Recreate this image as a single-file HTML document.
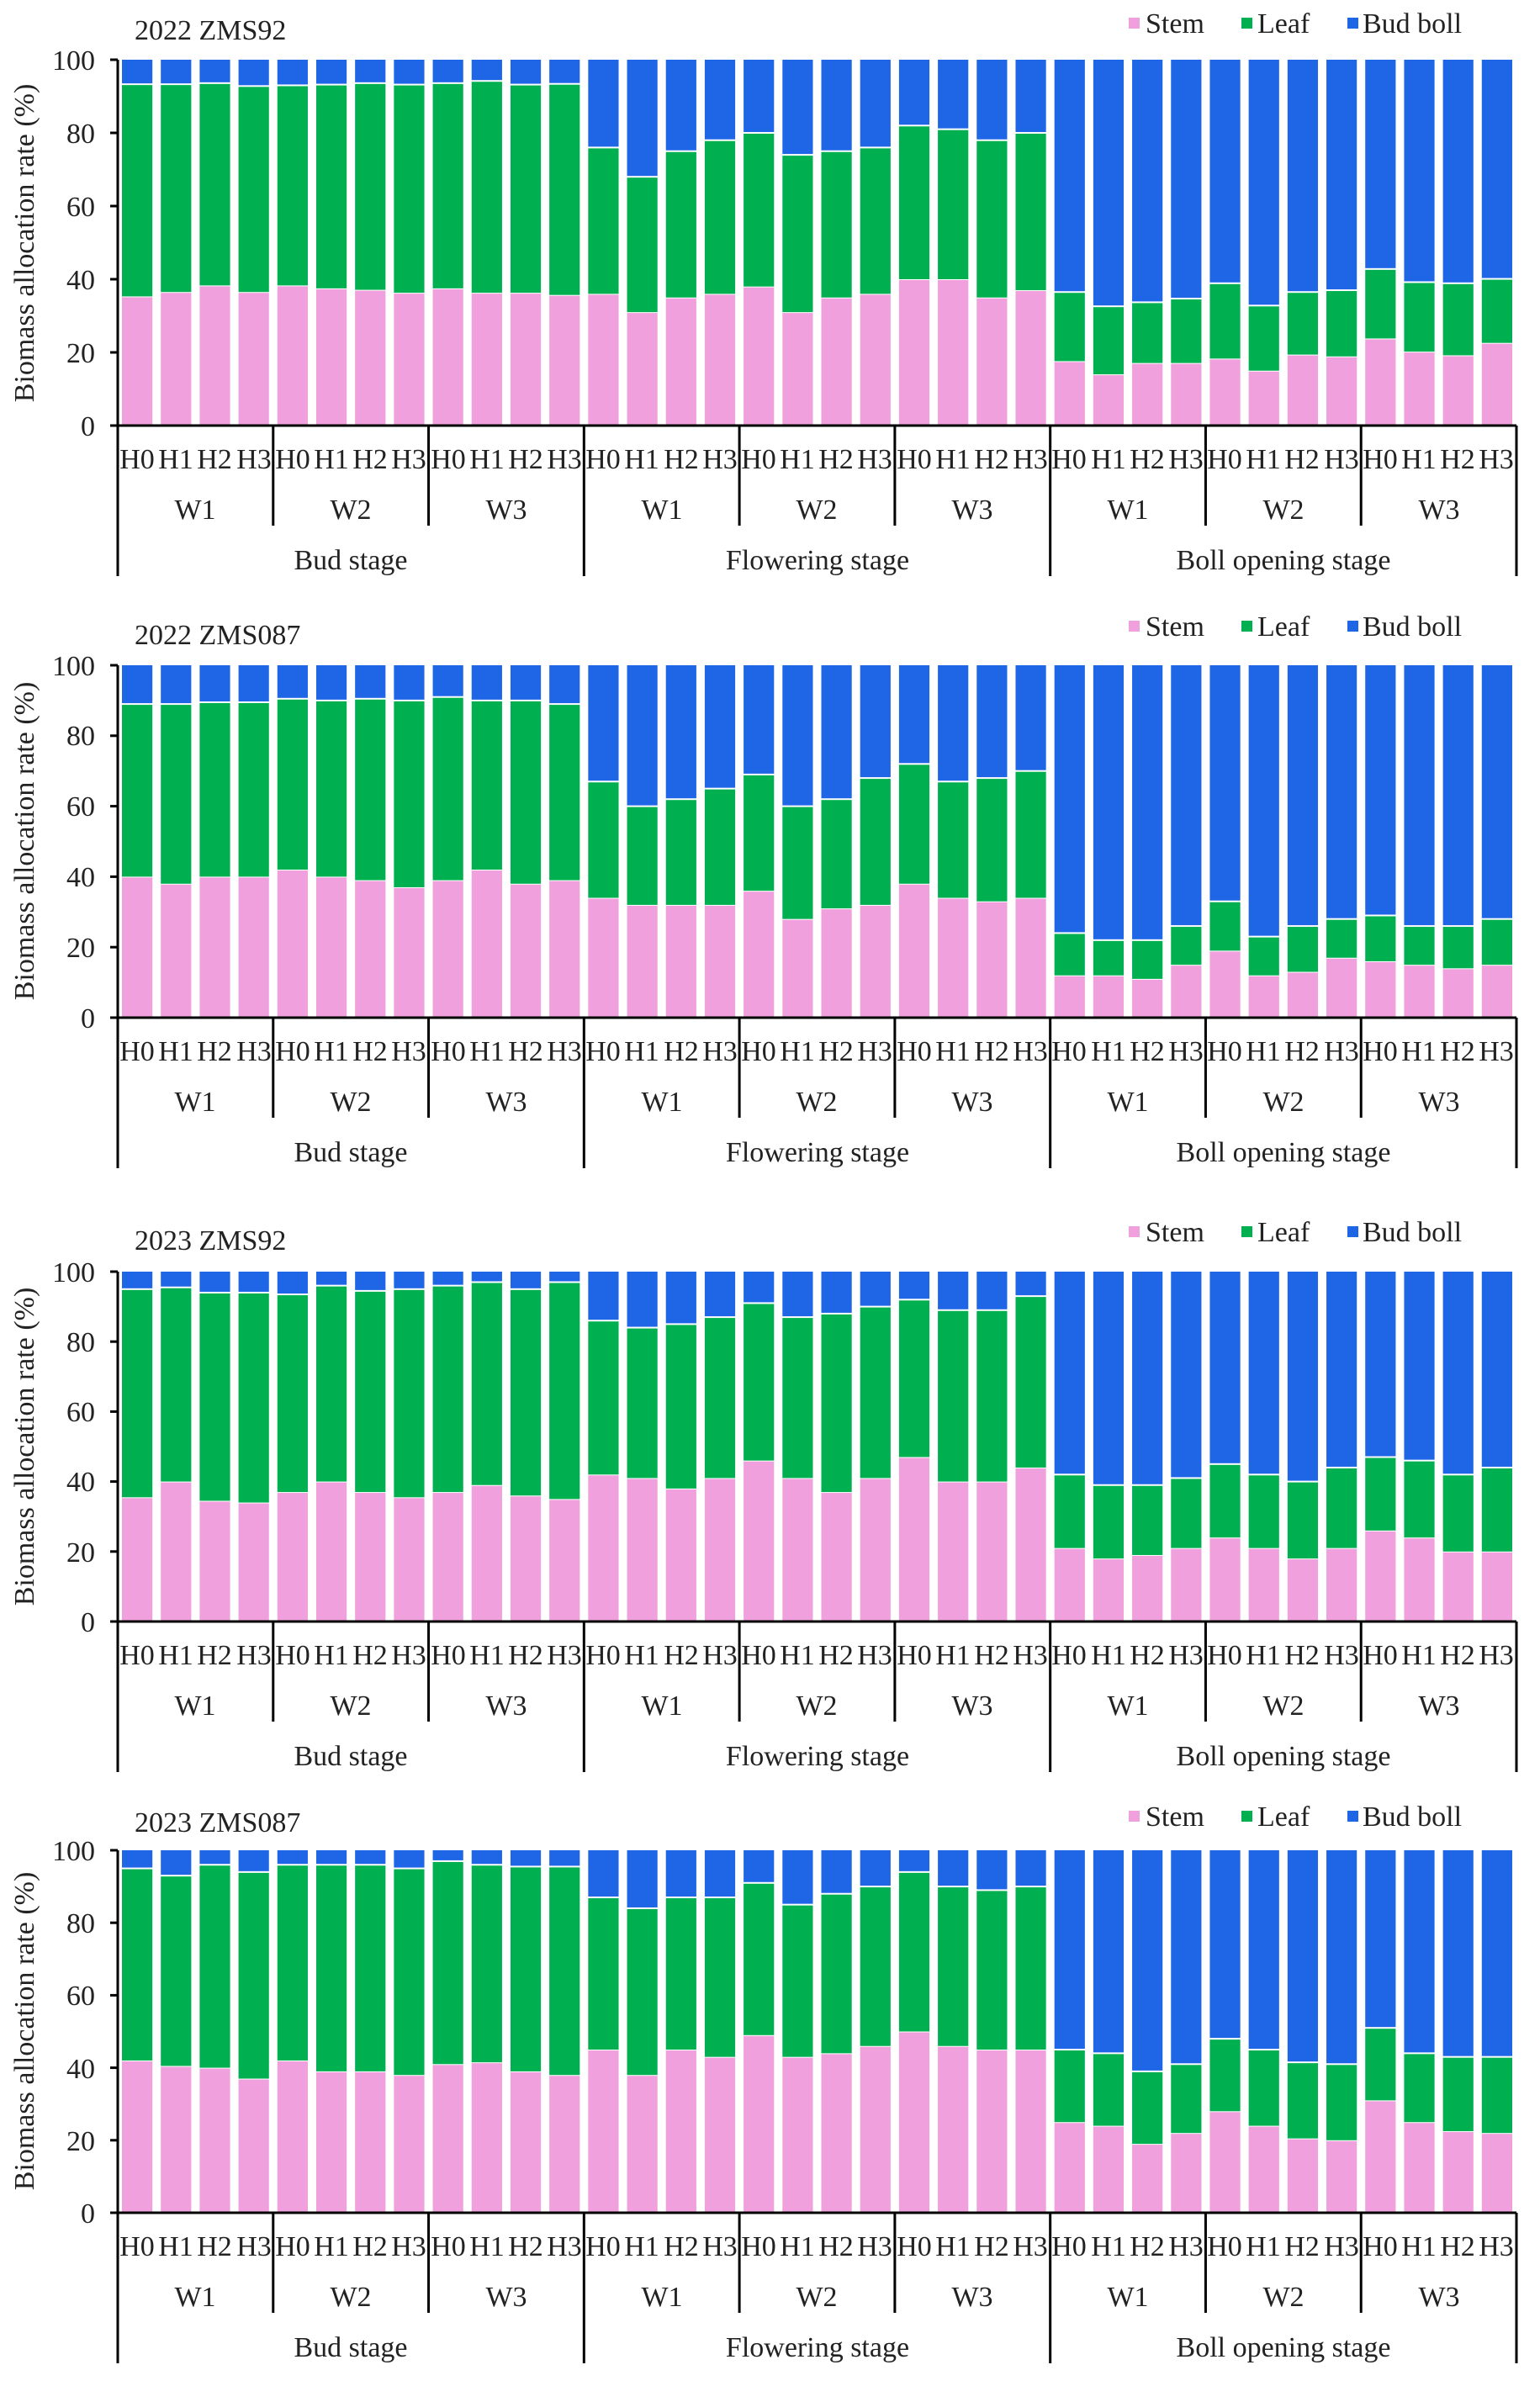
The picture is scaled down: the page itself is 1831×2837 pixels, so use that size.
<!DOCTYPE html>
<html><head><meta charset="utf-8"><style>
html,body{margin:0;padding:0;background:#fff;}
svg{display:block;font-family:"Liberation Serif",serif;}
text{font-size:34px;fill:#222;}
.h text,.h{text-anchor:middle;}
</style></head><body>
<svg id="s" width="1831" height="2837" viewBox="0 0 1831 2837" xmlns="http://www.w3.org/2000/svg">
<g id="bars"></g>
<g id="axes" stroke="#000" stroke-width="3" fill="none"></g>

<text x="160" y="47">2022 ZMS92</text>
<g transform="translate(0,39)">
<rect x="1342" y="-18" width="13" height="13" fill="#f0a0dc"/><text x="1362" y="0">Stem</text>
<rect x="1476" y="-18" width="13" height="13" fill="#00b050"/><text x="1495" y="0">Leaf</text>
<rect x="1602" y="-18" width="13" height="13" fill="#1e66e6"/><text x="1620" y="0">Bud boll</text>
</g>
<text transform="translate(40,289) rotate(-90)" text-anchor="middle">Biomass allocation rate (%)</text>

<text x="160" y="766">2022 ZMS087</text>
<g transform="translate(0,756)">
<rect x="1342" y="-18" width="13" height="13" fill="#f0a0dc"/><text x="1362" y="0">Stem</text>
<rect x="1476" y="-18" width="13" height="13" fill="#00b050"/><text x="1495" y="0">Leaf</text>
<rect x="1602" y="-18" width="13" height="13" fill="#1e66e6"/><text x="1620" y="0">Bud boll</text>
</g>
<text transform="translate(40,1000) rotate(-90)" text-anchor="middle">Biomass allocation rate (%)</text>

<text x="160" y="1486">2023 ZMS92</text>
<g transform="translate(0,1476)">
<rect x="1342" y="-18" width="13" height="13" fill="#f0a0dc"/><text x="1362" y="0">Stem</text>
<rect x="1476" y="-18" width="13" height="13" fill="#00b050"/><text x="1495" y="0">Leaf</text>
<rect x="1602" y="-18" width="13" height="13" fill="#1e66e6"/><text x="1620" y="0">Bud boll</text>
</g>
<text transform="translate(40,1720) rotate(-90)" text-anchor="middle">Biomass allocation rate (%)</text>

<text x="160" y="2178">2023 ZMS087</text>
<g transform="translate(0,2171)">
<rect x="1342" y="-18" width="13" height="13" fill="#f0a0dc"/><text x="1362" y="0">Stem</text>
<rect x="1476" y="-18" width="13" height="13" fill="#00b050"/><text x="1495" y="0">Leaf</text>
<rect x="1602" y="-18" width="13" height="13" fill="#1e66e6"/><text x="1620" y="0">Bud boll</text>
</g>
<text transform="translate(40,2415) rotate(-90)" text-anchor="middle">Biomass allocation rate (%)</text>

<g text-anchor="end">
<text x="113" y="518">0</text><text x="113" y="431">20</text><text x="113" y="344">40</text><text x="113" y="257">60</text><text x="113" y="170">80</text><text x="113" y="83">100</text>
<text x="113" y="1222">0</text><text x="113" y="1138">20</text><text x="113" y="1054">40</text><text x="113" y="970">60</text><text x="113" y="886">80</text><text x="113" y="803">100</text>
<text x="113" y="1940">0</text><text x="113" y="1857">20</text><text x="113" y="1773">40</text><text x="113" y="1690">60</text><text x="113" y="1607">80</text><text x="113" y="1524">100</text>
<text x="113" y="2643">0</text><text x="113" y="2557">20</text><text x="113" y="2471">40</text><text x="113" y="2384">60</text><text x="113" y="2298">80</text><text x="113" y="2212">100</text>
</g>

<g class="h" transform="translate(0,506)">
<text y="51"><tspan x="163">H0</tspan><tspan x="209">H1</tspan><tspan x="255">H2</tspan><tspan x="302">H3</tspan><tspan x="348">H0</tspan><tspan x="394">H1</tspan><tspan x="440">H2</tspan><tspan x="486">H3</tspan><tspan x="533">H0</tspan><tspan x="579">H1</tspan><tspan x="625">H2</tspan><tspan x="671">H3</tspan><tspan x="717">H0</tspan><tspan x="763">H1</tspan><tspan x="810">H2</tspan><tspan x="856">H3</tspan><tspan x="902">H0</tspan><tspan x="948">H1</tspan><tspan x="994">H2</tspan><tspan x="1040">H3</tspan><tspan x="1087">H0</tspan><tspan x="1133">H1</tspan><tspan x="1179">H2</tspan><tspan x="1225">H3</tspan><tspan x="1271">H0</tspan><tspan x="1318">H1</tspan><tspan x="1364">H2</tspan><tspan x="1410">H3</tspan><tspan x="1456">H0</tspan><tspan x="1502">H1</tspan><tspan x="1548">H2</tspan><tspan x="1595">H3</tspan><tspan x="1641">H0</tspan><tspan x="1687">H1</tspan><tspan x="1733">H2</tspan><tspan x="1779">H3</tspan></text>
<text y="111"><tspan x="232">W1</tspan><tspan x="417">W2</tspan><tspan x="602">W3</tspan><tspan x="787">W1</tspan><tspan x="971">W2</tspan><tspan x="1156">W3</tspan><tspan x="1341">W1</tspan><tspan x="1526">W2</tspan><tspan x="1711">W3</tspan></text>
<text y="171"><tspan x="417">Bud stage</tspan><tspan x="972">Flowering stage</tspan><tspan x="1526">Boll opening stage</tspan></text>
</g>
<g class="h" transform="translate(0,1210)">
<text y="51"><tspan x="163">H0</tspan><tspan x="209">H1</tspan><tspan x="255">H2</tspan><tspan x="302">H3</tspan><tspan x="348">H0</tspan><tspan x="394">H1</tspan><tspan x="440">H2</tspan><tspan x="486">H3</tspan><tspan x="533">H0</tspan><tspan x="579">H1</tspan><tspan x="625">H2</tspan><tspan x="671">H3</tspan><tspan x="717">H0</tspan><tspan x="763">H1</tspan><tspan x="810">H2</tspan><tspan x="856">H3</tspan><tspan x="902">H0</tspan><tspan x="948">H1</tspan><tspan x="994">H2</tspan><tspan x="1040">H3</tspan><tspan x="1087">H0</tspan><tspan x="1133">H1</tspan><tspan x="1179">H2</tspan><tspan x="1225">H3</tspan><tspan x="1271">H0</tspan><tspan x="1318">H1</tspan><tspan x="1364">H2</tspan><tspan x="1410">H3</tspan><tspan x="1456">H0</tspan><tspan x="1502">H1</tspan><tspan x="1548">H2</tspan><tspan x="1595">H3</tspan><tspan x="1641">H0</tspan><tspan x="1687">H1</tspan><tspan x="1733">H2</tspan><tspan x="1779">H3</tspan></text>
<text y="111"><tspan x="232">W1</tspan><tspan x="417">W2</tspan><tspan x="602">W3</tspan><tspan x="787">W1</tspan><tspan x="971">W2</tspan><tspan x="1156">W3</tspan><tspan x="1341">W1</tspan><tspan x="1526">W2</tspan><tspan x="1711">W3</tspan></text>
<text y="171"><tspan x="417">Bud stage</tspan><tspan x="972">Flowering stage</tspan><tspan x="1526">Boll opening stage</tspan></text>
</g>
<g class="h" transform="translate(0,1928)">
<text y="51"><tspan x="163">H0</tspan><tspan x="209">H1</tspan><tspan x="255">H2</tspan><tspan x="302">H3</tspan><tspan x="348">H0</tspan><tspan x="394">H1</tspan><tspan x="440">H2</tspan><tspan x="486">H3</tspan><tspan x="533">H0</tspan><tspan x="579">H1</tspan><tspan x="625">H2</tspan><tspan x="671">H3</tspan><tspan x="717">H0</tspan><tspan x="763">H1</tspan><tspan x="810">H2</tspan><tspan x="856">H3</tspan><tspan x="902">H0</tspan><tspan x="948">H1</tspan><tspan x="994">H2</tspan><tspan x="1040">H3</tspan><tspan x="1087">H0</tspan><tspan x="1133">H1</tspan><tspan x="1179">H2</tspan><tspan x="1225">H3</tspan><tspan x="1271">H0</tspan><tspan x="1318">H1</tspan><tspan x="1364">H2</tspan><tspan x="1410">H3</tspan><tspan x="1456">H0</tspan><tspan x="1502">H1</tspan><tspan x="1548">H2</tspan><tspan x="1595">H3</tspan><tspan x="1641">H0</tspan><tspan x="1687">H1</tspan><tspan x="1733">H2</tspan><tspan x="1779">H3</tspan></text>
<text y="111"><tspan x="232">W1</tspan><tspan x="417">W2</tspan><tspan x="602">W3</tspan><tspan x="787">W1</tspan><tspan x="971">W2</tspan><tspan x="1156">W3</tspan><tspan x="1341">W1</tspan><tspan x="1526">W2</tspan><tspan x="1711">W3</tspan></text>
<text y="171"><tspan x="417">Bud stage</tspan><tspan x="972">Flowering stage</tspan><tspan x="1526">Boll opening stage</tspan></text>
</g>
<g class="h" transform="translate(0,2631)">
<text y="51"><tspan x="163">H0</tspan><tspan x="209">H1</tspan><tspan x="255">H2</tspan><tspan x="302">H3</tspan><tspan x="348">H0</tspan><tspan x="394">H1</tspan><tspan x="440">H2</tspan><tspan x="486">H3</tspan><tspan x="533">H0</tspan><tspan x="579">H1</tspan><tspan x="625">H2</tspan><tspan x="671">H3</tspan><tspan x="717">H0</tspan><tspan x="763">H1</tspan><tspan x="810">H2</tspan><tspan x="856">H3</tspan><tspan x="902">H0</tspan><tspan x="948">H1</tspan><tspan x="994">H2</tspan><tspan x="1040">H3</tspan><tspan x="1087">H0</tspan><tspan x="1133">H1</tspan><tspan x="1179">H2</tspan><tspan x="1225">H3</tspan><tspan x="1271">H0</tspan><tspan x="1318">H1</tspan><tspan x="1364">H2</tspan><tspan x="1410">H3</tspan><tspan x="1456">H0</tspan><tspan x="1502">H1</tspan><tspan x="1548">H2</tspan><tspan x="1595">H3</tspan><tspan x="1641">H0</tspan><tspan x="1687">H1</tspan><tspan x="1733">H2</tspan><tspan x="1779">H3</tspan></text>
<text y="111"><tspan x="232">W1</tspan><tspan x="417">W2</tspan><tspan x="602">W3</tspan><tspan x="787">W1</tspan><tspan x="971">W2</tspan><tspan x="1156">W3</tspan><tspan x="1341">W1</tspan><tspan x="1526">W2</tspan><tspan x="1711">W3</tspan></text>
<text y="171"><tspan x="417">Bud stage</tspan><tspan x="972">Flowering stage</tspan><tspan x="1526">Boll opening stage</tspan></text>
</g>
</svg>
<script>
(function(){
var NS="http://www.w3.org/2000/svg";
var panels=[
 {y0:506,h:435,
  s:[35.3,36.5,38.3,36.5,38.3,37.5,37.1,36.3,37.5,36.3,36.3,35.7, 36,31,35,36,38,31,35,36,40,40,35,37, 17.6,14,17.1,17.1,18.3,15,19.4,18.9,23.8,20.2,19.2,22.6],
  l:[93.3,93.3,93.6,92.8,93,93.2,93.6,93.2,93.6,94.2,93.2,93.4, 76,68,75,78,80,74,75,76,82,81,78,80, 36.5,32.6,33.7,34.7,38.9,32.8,36.5,37,42.8,39.2,38.9,40.1]},
 {y0:1210,h:419,
  s:[40,38,40,40,42,40,39,37,39,42,38,39, 34,32,32,32,36,28,31,32,38,34,33,34, 12,12,11,15,19,12,13,17,16,15,14,15],
  l:[89,89,89.5,89.5,90.5,90,90.5,90,91,90,90,89, 67,60,62,65,69,60,62,68,72,67,68,70, 24,22,22,26,33,23,26,28,29,26,26,28]},
 {y0:1928,h:416,
  s:[35.5,40,34.5,34,37,40,37,35.5,37,39,36,35, 42,41,38,41,46,41,37,41,47,40,40,44, 21,18,19,21,24,21,18,21,26,24,20,20],
  l:[95,95.5,94,94,93.5,96,94.5,95,96,97,95,97, 86,84,85,87,91,87,88,90,92,89,89,93, 42,39,39,41,45,42,40,44,47,46,42,44]},
 {y0:2631,h:431,
  s:[42,40.5,40,37,42,39,39,38,41,41.5,39,38, 45,38,45,43,49,43,44,46,50,46,45,45, 25,24,19,22,28,24,20.5,20,31,25,22.5,22],
  l:[95,93,96,94,96,96,96,95,97,96,95.5,95.5, 87,84,87,87,91,85,88,90,94,90,89,90, 45,44,39,41,48,45,41.5,41,51,44,43,43]}
];
var bars=document.getElementById("bars"),ax=document.getElementById("axes");
function el(p,n,a){var e=document.createElementNS(NS,n);for(var k in a)e.setAttribute(k,a[k]);p.appendChild(e);return e;}
var X0=140,W=1663/36;
panels.forEach(function(p){
 var y0=p.y0,h=p.h;
 for(var i=0;i<36;i++){
  var x=X0+W*i+5,bw=W-10;
  var ys=y0-h*p.s[i]/100,yl=y0-h*p.l[i]/100,yt=y0-h;
  el(bars,"rect",{x:x,y:ys+1,width:bw,height:y0-ys-1,fill:"#f0a0dc"});
  el(bars,"rect",{x:x,y:yl+1,width:bw,height:ys-yl-1,fill:"#00b050"});
  el(bars,"rect",{x:x,y:yt,width:bw,height:yl-yt-1,fill:"#1e66e6"});
 }
 el(ax,"line",{x1:X0,y1:y0-h,x2:X0,y2:y0});
 el(ax,"line",{x1:X0-9,y1:y0,x2:X0+1663,y2:y0});
 for(var t=20;t<=100;t+=20)el(ax,"line",{x1:X0-9,y1:y0-h*t/100,x2:X0,y2:y0-h*t/100});
 for(var j=0;j<=9;j++){
  var xx=X0+W*4*j;
  el(ax,"line",{x1:xx,y1:y0,x2:xx,y2:y0+(j%3==0?179:119)});
 }
});
})();
</script>
</body></html>
